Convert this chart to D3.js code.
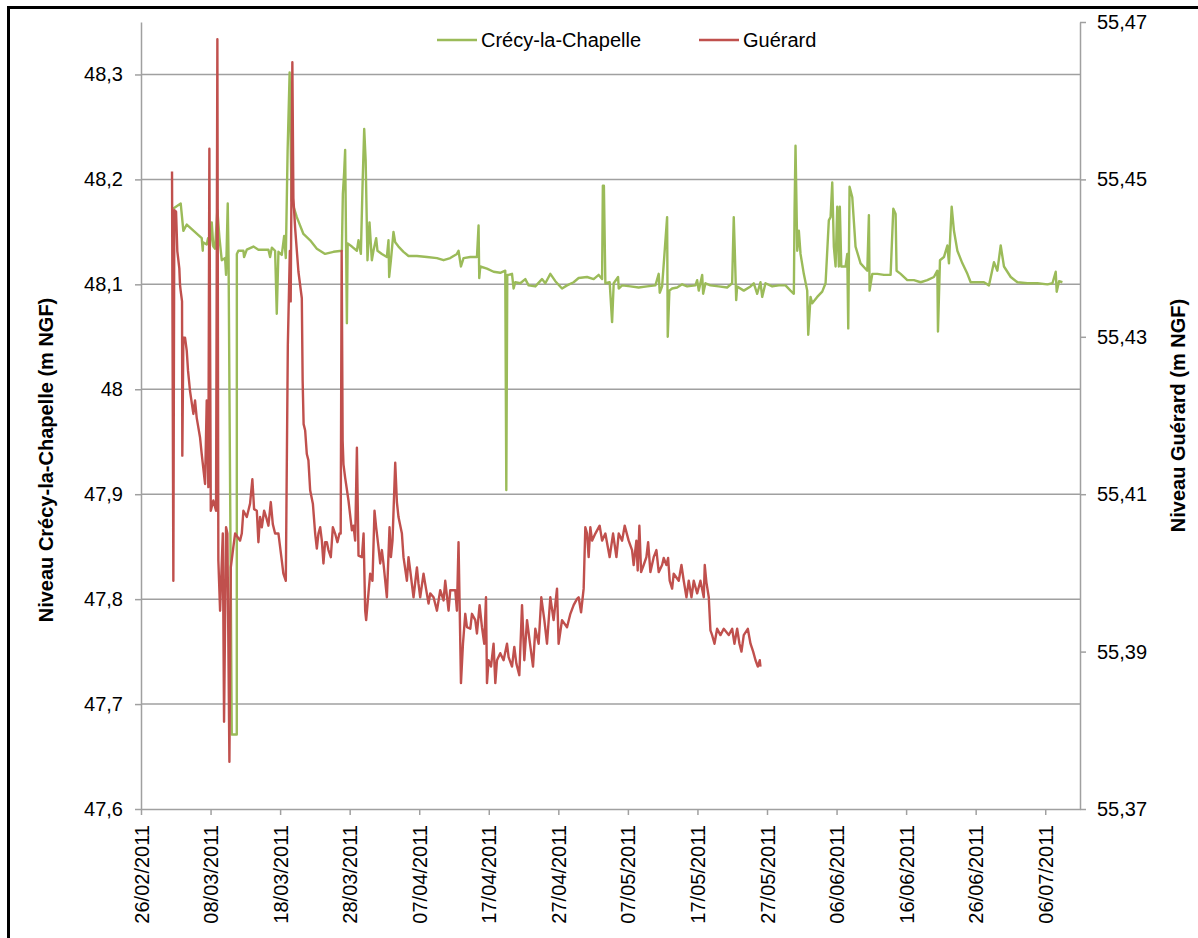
<!DOCTYPE html>
<html>
<head>
<meta charset="utf-8">
<script src="https://cdn.jsdelivr.net/npm/d3@7"></script>
<style>
  body { margin: 0; background: #fff; }
  text { font-family: "Liberation Sans", Arial, sans-serif; }
</style>
</head>
<body>
<div id="chart"></div>
<script>
// days counted from 26/02/2011
const startDate = Date.UTC(2011, 1, 26);
const lastDay = 135;
const tickDays = d3.range(0, 131, 10);
const leftTicks = [47.6, 47.7, 47.8, 47.9, 48.0, 48.1, 48.2, 48.3];
const rightTicks = [55.37, 55.39, 55.41, 55.43, 55.45, 55.47];
const seriesNames = ["Crécy-la-Chapelle", "Guérard"];

// Crécy-la-Chapelle, [day, level m NGF] (left axis)
const crecy = [
  [4.60,48.172],[5.71,48.177],[6.09,48.151],[6.58,48.157],[8.73,48.144],[8.88,48.132],[8.92,48.140],[9.45,48.138],
  [9.64,48.144],[9.93,48.137],[10.17,48.159],[10.40,48.136],[10.65,48.134],[10.98,48.171],[11.27,48.145],[11.61,48.123],
  [12.09,48.125],[12.23,48.109],[12.47,48.177],[12.59,48.123],[13.05,47.671],[13.77,47.671],[13.78,48.129],[14.00,48.132],
  [14.72,48.132],[14.82,48.126],[15.21,48.133],[16.16,48.136],[16.88,48.133],[17.60,48.133],[18.32,48.133],[18.56,48.126],
  [18.81,48.135],[19.28,48.132],[19.52,48.072],[19.76,48.131],[20.24,48.128],[20.58,48.146],[20.82,48.125],[21.08,48.228],
  [21.37,48.302],[21.65,48.180],[22.40,48.164],[23.35,48.148],[24.32,48.142],[25.28,48.134],[26.47,48.129],[27.67,48.131],
  [28.88,48.132],[29.02,48.186],[29.21,48.207],[29.35,48.228],[29.60,48.063],[29.71,48.139],[30.32,48.136],[31.04,48.132],
  [31.27,48.142],[31.61,48.129],[31.87,48.199],[32.09,48.248],[32.30,48.218],[32.56,48.123],[32.85,48.159],[33.19,48.123],
  [33.42,48.132],[33.81,48.144],[34.00,48.132],[34.63,48.129],[35.35,48.126],[35.58,48.142],[35.68,48.107],[35.93,48.123],
  [36.30,48.150],[36.55,48.140],[37.02,48.136],[37.74,48.131],[38.46,48.127],[39.67,48.127],[41.11,48.126],[42.55,48.125],
  [43.50,48.123],[44.46,48.125],[45.42,48.129],[45.65,48.132],[46.00,48.117],[46.37,48.125],[47.34,48.126],[48.30,48.126],
  [48.53,48.156],[48.63,48.106],[48.78,48.117],[49.74,48.115],[50.69,48.112],[51.65,48.111],[52.37,48.113],[52.52,47.904],
  [52.66,48.109],[52.85,48.109],[53.34,48.110],[53.57,48.096],[53.81,48.102],[54.53,48.101],[55.25,48.105],[55.73,48.099],
  [56.69,48.098],[57.65,48.105],[58.13,48.101],[58.85,48.110],[59.57,48.103],[60.53,48.096],[61.25,48.099],[62.20,48.102],
  [62.92,48.106],[64.13,48.107],[65.08,48.105],[65.80,48.109],[66.29,48.105],[66.40,48.194],[66.55,48.194],[66.76,48.101],
  [67.38,48.102],[67.73,48.064],[67.96,48.101],[68.59,48.107],[68.68,48.096],[69.17,48.099],[70.36,48.098],[71.55,48.097],
  [72.76,48.098],[73.96,48.099],[74.43,48.110],[74.58,48.092],[74.92,48.098],[75.64,48.164],[75.73,48.050],[75.97,48.094],
  [76.36,48.096],[77.08,48.097],[77.80,48.100],[78.52,48.098],[79.71,48.099],[79.96,48.104],[80.19,48.094],[80.68,48.109],
  [80.82,48.091],[81.15,48.101],[81.87,48.099],[83.06,48.098],[84.27,48.097],[84.99,48.101],[85.22,48.164],[85.37,48.132],
  [85.57,48.085],[85.71,48.098],[86.66,48.094],[87.63,48.098],[88.10,48.101],[88.59,48.091],[89.06,48.102],[89.31,48.088],
  [89.78,48.101],[90.75,48.098],[91.70,48.099],[92.66,48.099],[93.38,48.094],[93.86,48.091],[93.96,48.169],[94.10,48.232],
  [94.35,48.132],[94.58,48.151],[94.82,48.129],[95.29,48.110],[95.78,48.094],[95.93,48.052],[96.26,48.088],[96.50,48.082],
  [97.22,48.088],[97.94,48.093],[98.42,48.101],[98.89,48.161],[99.14,48.164],[99.38,48.197],[99.61,48.136],[99.86,48.117],
  [100.10,48.174],[100.33,48.117],[100.47,48.174],[100.68,48.117],[101.29,48.117],[101.54,48.129],[101.68,48.058],[101.87,48.193],
  [102.26,48.183],[102.73,48.136],[103.45,48.120],[104.42,48.113],[104.65,48.166],[104.75,48.094],[105.14,48.110],[105.86,48.110],
  [106.81,48.109],[107.77,48.109],[108.16,48.172],[108.49,48.167],[108.63,48.113],[109.21,48.110],[110.17,48.104],[111.12,48.104],
  [112.09,48.102],[113.05,48.104],[114.00,48.107],[114.49,48.113],[114.58,48.055],[114.87,48.123],[115.44,48.126],[115.93,48.137],
  [116.16,48.120],[116.55,48.174],[116.88,48.151],[117.37,48.132],[118.09,48.120],[118.81,48.110],[119.28,48.102],[120.24,48.102],
  [121.19,48.102],[121.91,48.099],[122.63,48.121],[123.12,48.113],[123.60,48.137],[124.07,48.117],[125.04,48.107],[126.00,48.102],
  [127.44,48.101],[128.88,48.101],[130.32,48.100],[131.04,48.101],[131.51,48.112],[131.65,48.093],[131.99,48.103],[132.47,48.102]
];

// Guérard, [day, level m NGF] (right axis)
const guerard = [
  [4.46,55.4510],[4.65,55.3990],[4.79,55.4461],[5.04,55.4459],[5.22,55.4409],[5.51,55.4387],[5.61,55.4366],[5.71,55.4358],
  [5.90,55.4345],[5.94,55.4149],[6.09,55.4299],[6.33,55.4299],[6.58,55.4282],[6.76,55.4257],[7.05,55.4231],[7.53,55.4202],
  [7.77,55.4219],[8.01,55.4197],[8.49,55.4172],[8.73,55.4151],[9.21,55.4113],[9.45,55.4219],[9.68,55.4109],[9.83,55.4539],
  [10.03,55.4079],[10.40,55.4092],[10.79,55.4079],[10.98,55.4678],[11.12,55.4016],[11.37,55.3952],[11.76,55.4050],[11.94,55.3811],
  [12.23,55.4058],[12.42,55.4050],[12.71,55.3760],[12.91,55.4007],[13.28,55.4033],[13.53,55.4050],[14.24,55.4041],[14.49,55.4050],
  [14.72,55.4079],[15.21,55.4071],[15.68,55.4088],[16.01,55.4119],[16.26,55.4081],[16.65,55.4079],[16.88,55.4039],[17.12,55.4071],
  [17.37,55.4058],[17.70,55.4079],[17.99,55.4071],[18.32,55.4060],[18.66,55.4090],[18.95,55.4062],[19.28,55.4050],[19.76,55.4050],
  [20.24,55.4016],[20.47,55.3999],[20.82,55.3990],[21.11,55.4290],[21.40,55.4409],[21.52,55.4345],[21.76,55.4649],[21.91,55.4476],
  [22.16,55.4438],[22.63,55.4383],[23.12,55.4349],[23.24,55.4244],[23.38,55.4189],[23.60,55.4181],[23.84,55.4151],[24.07,55.4143],
  [24.32,55.4105],[24.71,55.4088],[25.04,55.4050],[25.28,55.4031],[25.51,55.4050],[25.76,55.4058],[26.00,55.4041],[26.23,55.4012],
  [26.47,55.4039],[26.72,55.4039],[26.95,55.4029],[27.29,55.4020],[27.58,55.4058],[27.91,55.4050],[28.24,55.4039],[28.53,55.4050],
  [28.71,55.4050],[28.85,55.4409],[28.99,55.4168],[29.11,55.4138],[29.35,55.4121],[29.83,55.4092],[30.32,55.4054],[30.55,55.4060],
  [30.79,55.4041],[31.04,55.4159],[31.27,55.4022],[31.76,55.4020],[32.00,55.4050],[32.23,55.3952],[32.37,55.3940],[32.70,55.3974],
  [32.95,55.3999],[33.28,55.3990],[33.57,55.4079],[33.81,55.4058],[34.14,55.4033],[34.39,55.4012],[34.63,55.4029],[34.86,55.4012],
  [35.35,55.3969],[35.73,55.4058],[35.93,55.4020],[36.16,55.4041],[36.55,55.4140],[36.79,55.4090],[37.02,55.4071],[37.51,55.4050],
  [37.74,55.4020],[38.23,55.3990],[38.46,55.4020],[38.71,55.4003],[39.18,55.3969],[39.67,55.4007],[39.90,55.3986],[40.14,55.3969],
  [40.62,55.3999],[40.86,55.3986],[41.34,55.3961],[41.58,55.3974],[42.06,55.3969],[42.55,55.3952],[43.02,55.3978],[43.50,55.3965],
  [43.74,55.3990],[44.22,55.3952],[44.46,55.3978],[45.18,55.3978],[45.42,55.3952],[45.65,55.4039],[45.80,55.3965],[46.00,55.3860],
  [46.29,55.3910],[46.62,55.3948],[46.86,55.3931],[47.34,55.3929],[47.58,55.3948],[48.06,55.3940],[48.30,55.3923],[48.68,55.3959],
  [49.02,55.3931],[49.35,55.3910],[49.60,55.3969],[49.74,55.3860],[49.97,55.3889],[50.32,55.3881],[50.69,55.3910],[50.94,55.3860],
  [51.18,55.3889],[51.65,55.3898],[52.13,55.3889],[52.62,55.3910],[52.85,55.3893],[53.34,55.3881],[53.67,55.3906],[53.96,55.3885],
  [54.39,55.3870],[54.78,55.3959],[55.11,55.3889],[55.50,55.3940],[55.87,55.3914],[56.36,55.3881],[56.69,55.3929],[57.17,55.3910],
  [57.55,55.3969],[57.99,55.3940],[58.37,55.3910],[58.85,55.3969],[59.32,55.3940],[59.81,55.3980],[60.04,55.3910],[60.53,55.3940],
  [61.25,55.3931],[61.73,55.3948],[62.20,55.3959],[62.69,55.3967],[62.92,55.3969],[63.27,55.3950],[63.64,55.3980],[63.88,55.4058],
  [64.13,55.4050],[64.36,55.4020],[64.60,55.4058],[64.85,55.4041],[65.32,55.4050],[65.94,55.4060],[66.29,55.4041],[66.76,55.4050],
  [67.38,55.4020],[67.87,55.4050],[68.35,55.4020],[68.68,55.4050],[69.17,55.4041],[69.54,55.4060],[70.11,55.4041],[70.60,55.4029],
  [70.83,55.4010],[71.22,55.4041],[71.41,55.4003],[71.65,55.4060],[71.90,55.4001],[72.27,55.4010],[72.66,55.4020],[72.91,55.4039],
  [73.24,55.4001],[73.71,55.4020],[74.10,55.4029],[74.43,55.4001],[74.92,55.4010],[75.15,55.4019],[75.54,55.4010],[75.78,55.4019],
  [76.01,55.3990],[76.36,55.3980],[76.59,55.3999],[77.31,55.3990],[77.70,55.4010],[78.03,55.3990],[78.42,55.3969],[78.75,55.3990],
  [79.14,55.3969],[79.47,55.3990],[79.96,55.3974],[80.43,55.3990],[80.91,55.3969],[81.05,55.4010],[81.29,55.3988],[81.63,55.3969],
  [81.87,55.3927],[82.11,55.3921],[82.45,55.3910],[82.83,55.3929],[83.31,55.3921],[83.78,55.3929],[84.50,55.3921],[84.99,55.3929],
  [85.32,55.3910],[85.71,55.3929],[86.04,55.3910],[86.33,55.3900],[86.66,55.3921],[87.24,55.3929],[87.63,55.3910],[88.01,55.3900],
  [88.35,55.3889],[88.68,55.3881],[88.96,55.3889],[89.06,55.3881]
];

const colors = ["#9BBB59", "#C0504D"];
const W = 1198, H = 938;
const plot = { left: 141, right: 1080, top: 22, bottom: 809 };

const svg = d3.select("#chart").append("svg")
  .attr("width", W).attr("height", H);

const x = d3.scaleUtc()
  .domain([startDate, d3.utcDay.offset(new Date(startDate), lastDay)])
  .range([plot.left, plot.right]);
const yL = d3.scaleLinear().domain([47.6, 48.35]).range([plot.bottom, plot.top]);
const yR = d3.scaleLinear().domain([55.37, 55.47]).range([plot.bottom, plot.top]);
const toDate = d => new Date(startDate + d * 864e5);
const comma = (v, n) => String(+v.toFixed(n)).replace(".", ",");

// frame around the figure
svg.append("path")
  .attr("d", `M8.5,${H} V7.5 H${W}`)
  .attr("fill", "none").attr("stroke", "#000").attr("stroke-width", 3);

// horizontal grid
svg.append("g").selectAll("line")
  .data(leftTicks.slice(1))
  .join("line")
  .attr("x1", plot.left).attr("x2", plot.right)
  .attr("y1", d => yL(d)).attr("y2", d => yL(d))
  .attr("stroke", "#a0a0a0").attr("stroke-width", 1.5);

function styleAxis(g) {
  g.select(".domain").attr("stroke", "#a0a0a0").attr("stroke-width", 1.5);
  g.selectAll(".tick line").attr("stroke", "#a0a0a0").attr("stroke-width", 1.5);
  g.selectAll(".tick text").attr("fill", "#000").style("font-size", "20px")
    .style("font-family", '"Liberation Sans", Arial, sans-serif');
}

svg.append("g")
  .attr("transform", `translate(${plot.left},0)`)
  .call(d3.axisLeft(yL).tickValues(leftTicks).tickSize(6).tickSizeOuter(0).tickPadding(12)
    .tickFormat(d => comma(d, 1)))
  .call(styleAxis);

svg.append("g")
  .attr("transform", `translate(${plot.right},0)`)
  .call(d3.axisRight(yR).tickValues(rightTicks).tickSize(6).tickSizeOuter(0).tickPadding(11)
    .tickFormat(d => comma(d, 2)))
  .call(styleAxis);

const xAxis = svg.append("g")
  .attr("transform", `translate(0,${plot.bottom})`)
  .call(d3.axisBottom(x).tickValues(tickDays.map(toDate)).tickSize(6).tickSizeOuter(0)
    .tickFormat(d3.utcFormat("%d/%m/%Y")))
  .call(styleAxis);
xAxis.selectAll(".tick text")
  .attr("text-anchor", "end")
  .attr("transform", "rotate(-90)")
  .attr("x", -16).attr("y", 0).attr("dy", "0.35em");

// series
const lineL = d3.line().x(d => x(toDate(d[0]))).y(d => yL(d[1]));
const lineR = d3.line().x(d => x(toDate(d[0]))).y(d => yR(d[1]));

svg.append("path").datum(crecy)
  .attr("d", lineL).attr("fill", "none")
  .attr("stroke", colors[0]).attr("stroke-width", 2.4).attr("stroke-linejoin", "round");
svg.append("path").datum(guerard)
  .attr("d", lineR).attr("fill", "none")
  .attr("stroke", colors[1]).attr("stroke-width", 2.4).attr("stroke-linejoin", "round");

// axis titles (left one sits lower than the plot centre, as in the original)
svg.append("text")
  .attr("transform", "translate(46,460) rotate(-90)")
  .attr("text-anchor", "middle").attr("dy", "0.35em")
  .style("font-size", "20px").style("font-weight", "bold")
  .text("Niveau Crécy-la-Chapelle (m NGF)");
svg.append("text")
  .attr("transform", `translate(1178,${(plot.top + plot.bottom) / 2}) rotate(-90)`)
  .attr("text-anchor", "middle").attr("dy", "0.35em")
  .style("font-size", "20px").style("font-weight", "bold")
  .text("Niveau Guérard (m NGF)");

// legend
const legendX = [437, 699];
const legend = svg.append("g").selectAll("g")
  .data(seriesNames)
  .join("g")
  .attr("transform", (d, i) => `translate(${legendX[i]},40)`);
legend.append("line")
  .attr("x1", 0).attr("x2", 40)
  .attr("stroke", (d, i) => colors[i]).attr("stroke-width", 2.4);
legend.append("text")
  .attr("x", 44).attr("dy", "0.35em")
  .style("font-size", "20px")
  .text(d => d);
</script>
</body>
</html>
